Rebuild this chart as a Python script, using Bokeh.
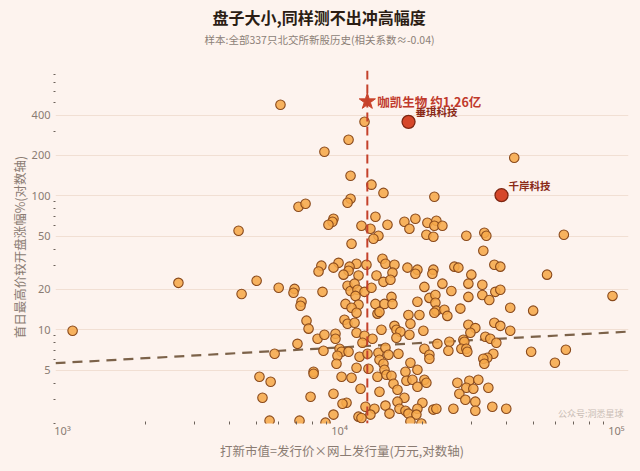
from bokeh.plotting import figure
from bokeh.models import ColumnDataSource, FixedTicker, Range1d, Span, Label, Title
from bokeh.core.properties import value
from bokeh.embed import file_html
from bokeh.resources import INLINE

# ---------------- data ----------------
cap = [6120, 12310, 10780, 8820, 10960, 13040, 14410, 10960, 10690, 7110,
       7540, 4320, 9510, 9430, 9120, 12000, 13480, 12930, 13820, 13260,
       14900, 17150, 17880, 11050, 14290, 14650, 9920, 8600, 11520, 12510,
       15790, 42740, 22000, 18790, 20760, 22370, 22000, 23520, 20590, 21820,
       28700, 33330, 33890, 64560, 33050, 17590, 19110, 18790, 21820, 21640,
       25980, 26860, 36220, 38070, 29920, 56140, 23520, 29190, 5020, 4430,
       6030, 6880, 6820, 8680, 7290, 7230, 7600, 7730, 7050, 5830,
       8330, 8820, 9670, 9670, 8750, 5140, 5640, 8060, 8060, 5270,
       7860, 5590, 7170, 8400, 9510, 10870, 10780, 15530, 11710, 10340,
       13600, 14410, 15270, 10690, 10960, 11330, 11610, 12310, 13040, 11420,
       10510, 11710, 11050, 11520, 13480, 14530, 15400, 15530, 13710, 13940,
       17730, 10420, 10690, 11330, 11520, 12310, 12100, 13150, 14170, 15790,
       16050, 16590, 16050, 18030, 10000, 10170, 10780, 9830, 9750, 11810,
       12620, 13820, 14650, 15020, 13940, 16320, 14410, 11520, 12720, 14530,
       10170, 11050, 13710, 14770, 15400, 17300, 15660, 11910, 13940, 16190,
       17440, 9510, 17150, 10600, 10250, 12410, 13370, 14650, 16190, 16460,
       12930, 11710, 15150, 17300, 9510, 20250, 32780, 36520, 38070, 25340,
       19110, 21110, 22190, 22190, 29190, 32780, 34740, 27310, 41340, 50020,
       22370, 22000, 23910, 24510, 19430, 20080, 17880, 29190, 30930, 29680,
       36220, 38070, 41340, 33610, 35030, 36830, 22560, 24920, 28000, 28230,
       27540, 28700, 28940, 24720, 20250, 21110, 21110, 35920, 34170, 33050,
       33330, 49190, 65640, 59930, 18030, 19110, 18330, 19110, 20250, 20590,
       26640, 29430, 31710, 28700, 30420, 27080, 34460, 28470, 30930, 19920,
       19110, 17730, 18950, 21820, 22370, 25770, 30930, 35620, 40000, 18030,
       96750, 1087, 2620, 8900, 12000, 19750]

rise = [478, 357, 262, 213, 141, 121, 105, 95, 88.7, 82.8,
        87.2, 54.8, 67.4, 64.0, 60.8, 59.7, 69.7, 56.7, 50.3, 47.8,
        60.8, 64.0, 56.7, 43.8, 33.9, 31.1, 31.6, 30.1, 31.1, 30.6,
        30.6, 192, 98.3, 67.4, 62.9, 65.1, 59.7, 59.7, 51.2, 49.4,
        50.3, 53.0, 50.3, 51.2, 38.9, 29.1, 28.1, 26.2, 28.1, 26.2,
        29.6, 29.1, 30.6, 29.6, 25.8, 25.8, 22.1, 22.1, 23.2, 18.5,
        20.6, 20.2, 18.9, 19.2, 16.2, 15.1, 11.7, 10.2, 7.86, 6.62,
        8.57, 9.18, 9.34, 8.57, 6.97, 4.46, 4.10, 4.86, 4.70, 3.11,
        3.17, 2.10, 2.10, 27.2, 29.1, 29.6, 27.6, 26.7, 25.4, 25.8,
        25.4, 22.8, 23.6, 21.3, 19.5, 22.1, 19.9, 19.2, 20.6, 17.9,
        15.6, 15.4, 14.6, 13.4, 15.6, 15.6, 17.6, 15.6, 13.2, 13.6,
        12.9, 11.9, 11.1, 11.3, 9.50, 9.02, 8.00, 8.57, 10.0, 10.7,
        10.0, 9.66, 8.72, 11.1, 7.22, 6.86, 6.86, 6.40, 5.58, 6.29,
        6.62, 6.74, 7.34, 6.51, 5.98, 6.62, 5.58, 5.21, 5.12, 5.03,
        4.46, 4.39, 4.46, 4.62, 4.54, 4.86, 3.96, 3.63, 3.45, 3.57,
        4.17, 3.33, 3.11, 2.86, 2.81, 2.67, 2.58, 2.72, 2.91, 2.58,
        2.33, 2.25, 2.37, 2.49, 2.33, 20.9, 21.7, 19.2, 19.9, 19.5,
        16.2, 17.3, 18.2, 15.9, 17.6, 18.2, 16.7, 14.4, 14.6, 13.9,
        13.9, 13.4, 14.1, 12.7, 12.9, 9.83, 9.18, 10.9, 10.3, 9.50,
        11.3, 10.7, 9.83, 8.87, 8.57, 8.00, 7.86, 8.14, 8.42, 8.14,
        7.22, 7.22, 6.86, 6.97, 7.22, 6.51, 6.08, 6.62, 6.19, 6.08,
        5.58, 6.86, 7.10, 5.68, 5.68, 5.03, 4.24, 3.76, 4.24, 4.03,
        4.03, 4.17, 4.24, 3.70, 3.63, 3.33, 3.70, 3.01, 2.91, 2.86,
        2.58, 2.37, 2.33, 2.54, 2.58, 2.58, 2.49, 2.67, 2.58, 2.07,
        17.9, 9.83, 22.4, 2.03, 2.2, 2.0]

hl_names = ["垂琪科技", "千岸科技"]
hl_cap = [17750, 38450]
hl_rise = [356, 101]

ipo_label = ["咖凯生物 约1.26亿"]
ipo_cap = [12600]
ipo_rise = [505]

trend_cap = [943, 110500]
trend_rise = [5.64, 9.7]

x_ticks = [1000, 10000, 100000]
x_tick_labels = ["10³", "10⁴", "10⁵"]
x_minor = [2000, 3000, 4000, 5000, 6000, 7000, 8000, 9000,
           20000, 30000, 40000, 50000, 60000, 70000, 80000, 90000]
y_ticks = [5, 10, 20, 50, 100, 200, 400]
y_minor = [2, 3, 4, 6, 7, 8, 9, 30, 40, 60, 70, 80, 90, 300, 500, 600, 700, 800]

title_text = "盘子大小,同样测不出冲高幅度"
subtitle_text = "样本:全部337只北交所新股历史(相关系数≈-0.04)"
x_title = "打新市值=发行价×网上发行量(万元,对数轴)"
y_title = "首日最高价较开盘涨幅%(对数轴)"
watermark = "公众号:洞悉星球"

# ---------------- styling ----------------
BG = "#fdf3ee"
FONT = "Noto Sans CJK SC"
NUMFONT = "Noto Sans"
AXIS_TXT = "#8a7b72"

p = figure(width=640, height=471, x_axis_type="log", y_axis_type="log",
           x_range=Range1d(943, 110500), y_range=Range1d(2.0, 860),
           output_backend="svg", toolbar_location=None,
           min_border_left=55, min_border_right=12, min_border_top=70, min_border_bottom=48,
           background_fill_color=BG, border_fill_color=BG, outline_line_color=None)

# titles above: spacer nearest the frame, then subtitle, then the main title
spacer = Title(text=" ", text_font=FONT, text_font_size="11px", standoff=6)
sub = Title(text=subtitle_text, align="left", offset=149, text_font=FONT, text_font_size="10.5px",
            text_font_style="normal", text_color="#8c7f77", standoff=0)
main = Title(text=title_text, align="left", offset=157, text_font=FONT, text_font_size="16px",
             text_font_style="bold", text_color="#2b1d14", standoff=2)
p.add_layout(spacer, "above")
p.add_layout(sub, "above")
p.add_layout(main, "above")

# axis titles as side titles
xt_title = Title(text=x_title, align="center", vertical_align="top", text_font=FONT,
                 text_font_size="12.5px", text_font_style="normal", text_color=AXIS_TXT, standoff=0)
yt_title = Title(text=y_title, align="center", vertical_align="bottom", text_font=FONT,
                 text_font_size="12.5px", text_font_style="normal", text_color=AXIS_TXT, standoff=0)
p.add_layout(xt_title, "below")
p.add_layout(yt_title, "left")

xt = FixedTicker(ticks=x_ticks, minor_ticks=x_minor)
yt = FixedTicker(ticks=y_ticks, minor_ticks=y_minor)

p.xaxis.ticker = xt
p.xaxis.major_label_overrides = {t: l for t, l in zip(x_ticks, x_tick_labels)}
p.yaxis.ticker = yt
p.yaxis.major_label_overrides = {t: str(t) for t in y_ticks}

for ax in (p.xaxis[0], p.yaxis[0]):
    ax.axis_label = None
    ax.axis_line_color = None
    ax.major_tick_line_color = None
    ax.major_tick_in = 0
    ax.major_tick_out = 0
    ax.minor_tick_line_color = "#6d625b"
    ax.major_label_text_font = NUMFONT
    ax.major_label_text_font_size = "11px"
    ax.major_label_text_color = AXIS_TXT

p.xaxis.minor_tick_in = 2
p.xaxis.minor_tick_out = 1
p.xaxis.major_label_standoff = -2

p.yaxis.minor_tick_in = 0
p.yaxis.minor_tick_out = 2
p.yaxis.major_label_standoff = 3

p.xgrid.grid_line_color = None
p.ygrid.ticker = yt
p.ygrid.grid_line_color = "#f1dfd3"
p.ygrid.grid_line_width = 1

# vertical reference line at the IPO value
p.add_layout(Span(location=ipo_cap[0], dimension="height", line_color="#c4412b",
                  line_width=2, line_dash="9 5"))

# trend line
p.line(trend_cap, trend_rise, line_color="#7c6249", line_width=2.2, line_dash="10 7")

# all points
src = ColumnDataSource(dict(cap=cap, rise=rise))
p.scatter("cap", "rise", source=src, size=9.5, fill_color="#f6a84a", fill_alpha=0.88,
          line_color="#8a4a1c", line_width=1.1)

# highlighted points
hsrc = ColumnDataSource(dict(cap=hl_cap, rise=hl_rise, name=hl_names))
p.scatter("cap", "rise", source=hsrc, size=13, fill_color="#d6472a", line_color="#7d2612",
          line_width=1.3)
p.text("cap", "rise", text="name", source=hsrc, x_offset=7, y_offset=-10,
       text_font=value(FONT), text_font_size="10.5px", text_font_style="bold",
       text_color="#8a2a17", text_baseline="middle", text_align="left")

# IPO star + label
isrc = ColumnDataSource(dict(cap=ipo_cap, rise=ipo_rise, label=ipo_label))
p.scatter("cap", "rise", source=isrc, marker="star", size=17, fill_color="#c9432b",
          line_color="#c9432b")
p.text("cap", "rise", text="label", source=isrc, x_offset=10, y_offset=0,
       text_font=value(FONT), text_font_size="12.5px", text_font_style="bold",
       text_color="#c0392b", text_baseline="middle", text_align="left")

# watermark
p.add_layout(Label(x=568, y=10, x_units="screen", y_units="screen", text=watermark,
                   text_font=FONT, text_font_size="9px", text_color="#c9bdb5",
                   text_align="right", text_baseline="middle"))

html = file_html(p, INLINE, title="chart")
css = "<style>html,body{background:%s;overflow:hidden;}</style>" % BG
html = html.replace("</head>", css + "</head>", 1)
open("out.html", "w").write(html)
